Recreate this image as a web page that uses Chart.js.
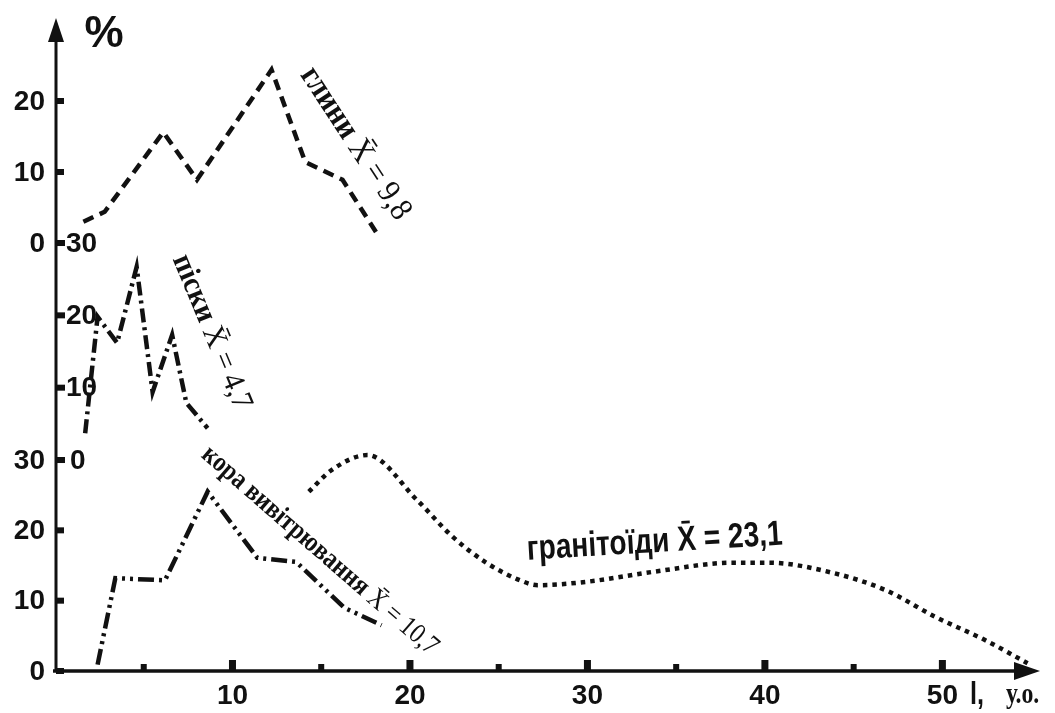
<!DOCTYPE html>
<html>
<head>
<meta charset="utf-8">
<script src="https://cdn.jsdelivr.net/npm/chart.js@4.4.1/dist/chart.umd.min.js"></script>
<style>
  html, body { margin: 0; padding: 0; background: #fff; }
  #wrap { width: 1055px; height: 713px; }
</style>
</head>
<body>
<div id="wrap"><canvas id="grainChart" width="1055" height="713"></canvas></div>
<script>
// tick labels
let xTicks = [10, 20, 30, 40, 50];
let xMinor = [5, 15, 25, 35, 45];
let topTicks = [0, 10, 20];
let midTicks = [0, 10, 20, 30];
let botTicks = [0, 10, 20, 30];

// глини (top panel)
let gliniX = [1.6, 2.8, 6.1, 8.0, 12.2, 14.1, 16.2, 18.1];
let gliniY = [3.0, 4.4, 15.6, 8.9, 24.4, 11.4, 8.9, 1.5];

// піски (middle panel)
let piskyX = [1.7, 2.4, 3.5, 4.6, 5.5, 6.6, 7.4, 8.6];
let piskyY = [3.7, 19.8, 16.2, 26.7, 9.4, 17.3, 7.9, 4.4];

// кора вивітрювання (bottom panel)
let koraX = [2.4, 3.4, 6.2, 8.6, 11.4, 13.6, 16.3, 18.4];
let koraY = [0.9, 13.2, 12.9, 25.5, 16.1, 15.5, 9.0, 6.5];

// гранітоїди (bottom panel)
let granX = [14.3, 15.6, 17.6, 20.4, 22.4, 24.3, 26.2, 27.2, 30.0, 33.7, 38.2, 40.2, 43.9, 46.8, 49.6, 52.4, 54.8];
let granY = [25.5, 28.6, 30.7, 24.3, 19.1, 15.4, 12.9, 12.2, 12.7, 14.1, 15.4, 15.4, 13.9, 11.5, 7.7, 4.4, 1.1];

function pts(xs, ys) {
    return xs.map((x, i) => ({ x: x, y: ys[i] }));
}

let ink = '#111';
let numFont = 'bold 28px "Liberation Sans", Arial, sans-serif';

function drawLabel(ctx, parts, x, y, deg, len) {
    ctx.save();
    ctx.translate(x, y);
    ctx.rotate(deg * Math.PI / 180);
    let total = 0;
    parts.forEach(p => { ctx.font = p.font; total += ctx.measureText(p.text).width; });
    ctx.scale(len / total, 1);
    ctx.textBaseline = 'middle';
    ctx.textAlign = 'left';
    let cx = 0;
    parts.forEach(p => {
        ctx.font = p.font;
        ctx.fillText(p.text, cx, 0);
        cx += ctx.measureText(p.text).width;
    });
    ctx.restore();
}

// axes, ticks and captions
let axesPlugin = {
    id: 'axesPlugin',
    afterDraw(chart) {
        let ctx = chart.ctx;
        let a = chart.chartArea;
        let sx = chart.scales.x;
        let sTop = chart.scales.yTop, sMid = chart.scales.yMid, sBot = chart.scales.yBot;
        let x0 = a.left + 1, y0 = a.bottom;
        ctx.save();
        ctx.fillStyle = ink;
        ctx.strokeStyle = ink;

        // y axis with arrow
        ctx.lineWidth = 3;
        ctx.beginPath();
        ctx.moveTo(x0, y0 + 1);
        ctx.lineTo(x0, a.top + 20);
        ctx.stroke();
        ctx.beginPath();
        ctx.moveTo(x0, a.top);
        ctx.lineTo(x0 - 8, a.top + 24);
        ctx.lineTo(x0 + 8, a.top + 24);
        ctx.closePath();
        ctx.fill();

        // x axis with arrow
        ctx.lineWidth = 3.5;
        ctx.beginPath();
        ctx.moveTo(a.left - 2, y0);
        ctx.lineTo(a.right - 20, y0);
        ctx.stroke();
        ctx.beginPath();
        ctx.moveTo(a.right, y0);
        ctx.lineTo(a.right - 26, y0 - 9);
        ctx.lineTo(a.right - 26, y0 + 9);
        ctx.closePath();
        ctx.fill();

        // x ticks
        xTicks.forEach(v => {
            let px = sx.getPixelForValue(v);
            ctx.fillRect(px - 3.5, y0 - 11, 7, 11);
        });
        xMinor.forEach(v => {
            let px = sx.getPixelForValue(v);
            ctx.fillRect(px - 3, y0 - 7, 6, 7);
        });
        ctx.font = numFont;
        ctx.textAlign = 'center';
        ctx.textBaseline = 'middle';
        xTicks.forEach(v => {
            ctx.fillText(String(v), sx.getPixelForValue(v), y0 + 25);
        });
        ctx.textAlign = 'left';
        ctx.save();
        ctx.translate(970, y0 + 24);
        ctx.scale(0.9, 1.15);
        ctx.fillText('l,', 0, 0);
        ctx.restore();
        ctx.font = 'bold 29px "Liberation Serif", serif';
        ctx.save();
        ctx.translate(1006, y0 + 25);
        ctx.scale(0.82, 1);
        ctx.fillText('у.о.', 0, 0);
        ctx.restore();

        // y ticks: outer labels (top and bottom panels)
        ctx.font = numFont;
        ctx.textAlign = 'right';
        [[sTop, topTicks], [sBot, botTicks]].forEach(([s, list]) => {
            list.forEach(v => {
                let py = s.getPixelForValue(v);
                ctx.fillRect(x0, py - 3, 8, 6);
                ctx.fillText(String(v), 45, py + 1);
            });
        });
        // inner labels (middle panel)
        ctx.textAlign = 'left';
        midTicks.forEach(v => {
            let py = sMid.getPixelForValue(v);
            ctx.fillRect(x0, py - 3, 9, 6);
            ctx.fillText(String(v), v === 0 ? 70 : 66, py + 1);
        });

        // percent sign
        ctx.font = 'bold 44px "Liberation Sans", Arial, sans-serif';
        ctx.textAlign = 'center';
        ctx.fillText('%', 104, 35);

        // curve captions
        let serifB = 'bold 33px "Liberation Serif", "Times New Roman", serif';
        let serif = '33px "Liberation Serif", "Times New Roman", serif';
        drawLabel(ctx, [{ text: 'глини ', font: serifB }, { text: 'X\u0304 = 9,8', font: serif }],
            307, 70, 56.7, 176);
        drawLabel(ctx, [{ text: 'піски ', font: 'bold 31px "Liberation Serif", serif' },
            { text: 'X\u0304 = 4,7', font: '31px "Liberation Serif", serif' }],
            180, 256, 67.5, 165);
        drawLabel(ctx, [{ text: 'кора вивітрювання ', font: 'bold 28px "Liberation Serif", serif' },
            { text: 'X\u0304 = 10,7', font: '28px "Liberation Serif", serif' }],
            205, 451, 41, 304);
        drawLabel(ctx, [{ text: 'гранітоїди X\u0304 = 23,1', font: 'bold 35px "Liberation Sans", Arial, sans-serif' }],
            527, 550, -3.4, 256);

        ctx.restore();
    }
};

let ctx = document.getElementById('grainChart').getContext('2d');
let grainChart = new Chart(ctx, {
    type: 'line',
    data: {
        datasets: [
            {
                label: 'глини',
                data: pts(gliniX, gliniY),
                yAxisID: 'yTop',
                borderColor: ink,
                borderWidth: 4.5,
                borderDash: [11, 7],
                pointRadius: 0,
                tension: 0
            },
            {
                label: 'піски',
                data: pts(piskyX, piskyY),
                yAxisID: 'yMid',
                borderColor: ink,
                borderWidth: 4.5,
                borderDash: [14, 5, 3, 5],
                pointRadius: 0,
                tension: 0
            },
            {
                label: 'кора вивітрювання',
                data: pts(koraX, koraY),
                yAxisID: 'yBot',
                borderColor: ink,
                borderWidth: 4.5,
                borderDash: [16, 5, 3, 5, 3, 5],
                pointRadius: 0,
                tension: 0
            },
            {
                label: 'гранітоїди',
                data: pts(granX, granY),
                yAxisID: 'yBot',
                borderColor: ink,
                borderWidth: 4.5,
                borderDash: [4.5, 5],
                borderCapStyle: 'butt',
                pointRadius: 0,
                cubicInterpolationMode: 'monotone'
            }
        ]
    },
    options: {
        responsive: false,
        animation: false,
        layout: { padding: { left: 55, right: 15, top: 18, bottom: 42 } },
        plugins: { legend: { display: false }, tooltip: { enabled: false } },
        scales: {
            x: { type: 'linear', min: 0, max: 55.5, display: false },
            yBot: { type: 'linear', min: 0, max: 92.85, display: false },
            yMid: { type: 'linear', min: -29.17, max: 61.11, display: false },
            yTop: { type: 'linear', min: -60.28, max: 31.69, display: false }
        }
    },
    plugins: [axesPlugin]
});
</script>
</body>
</html>
